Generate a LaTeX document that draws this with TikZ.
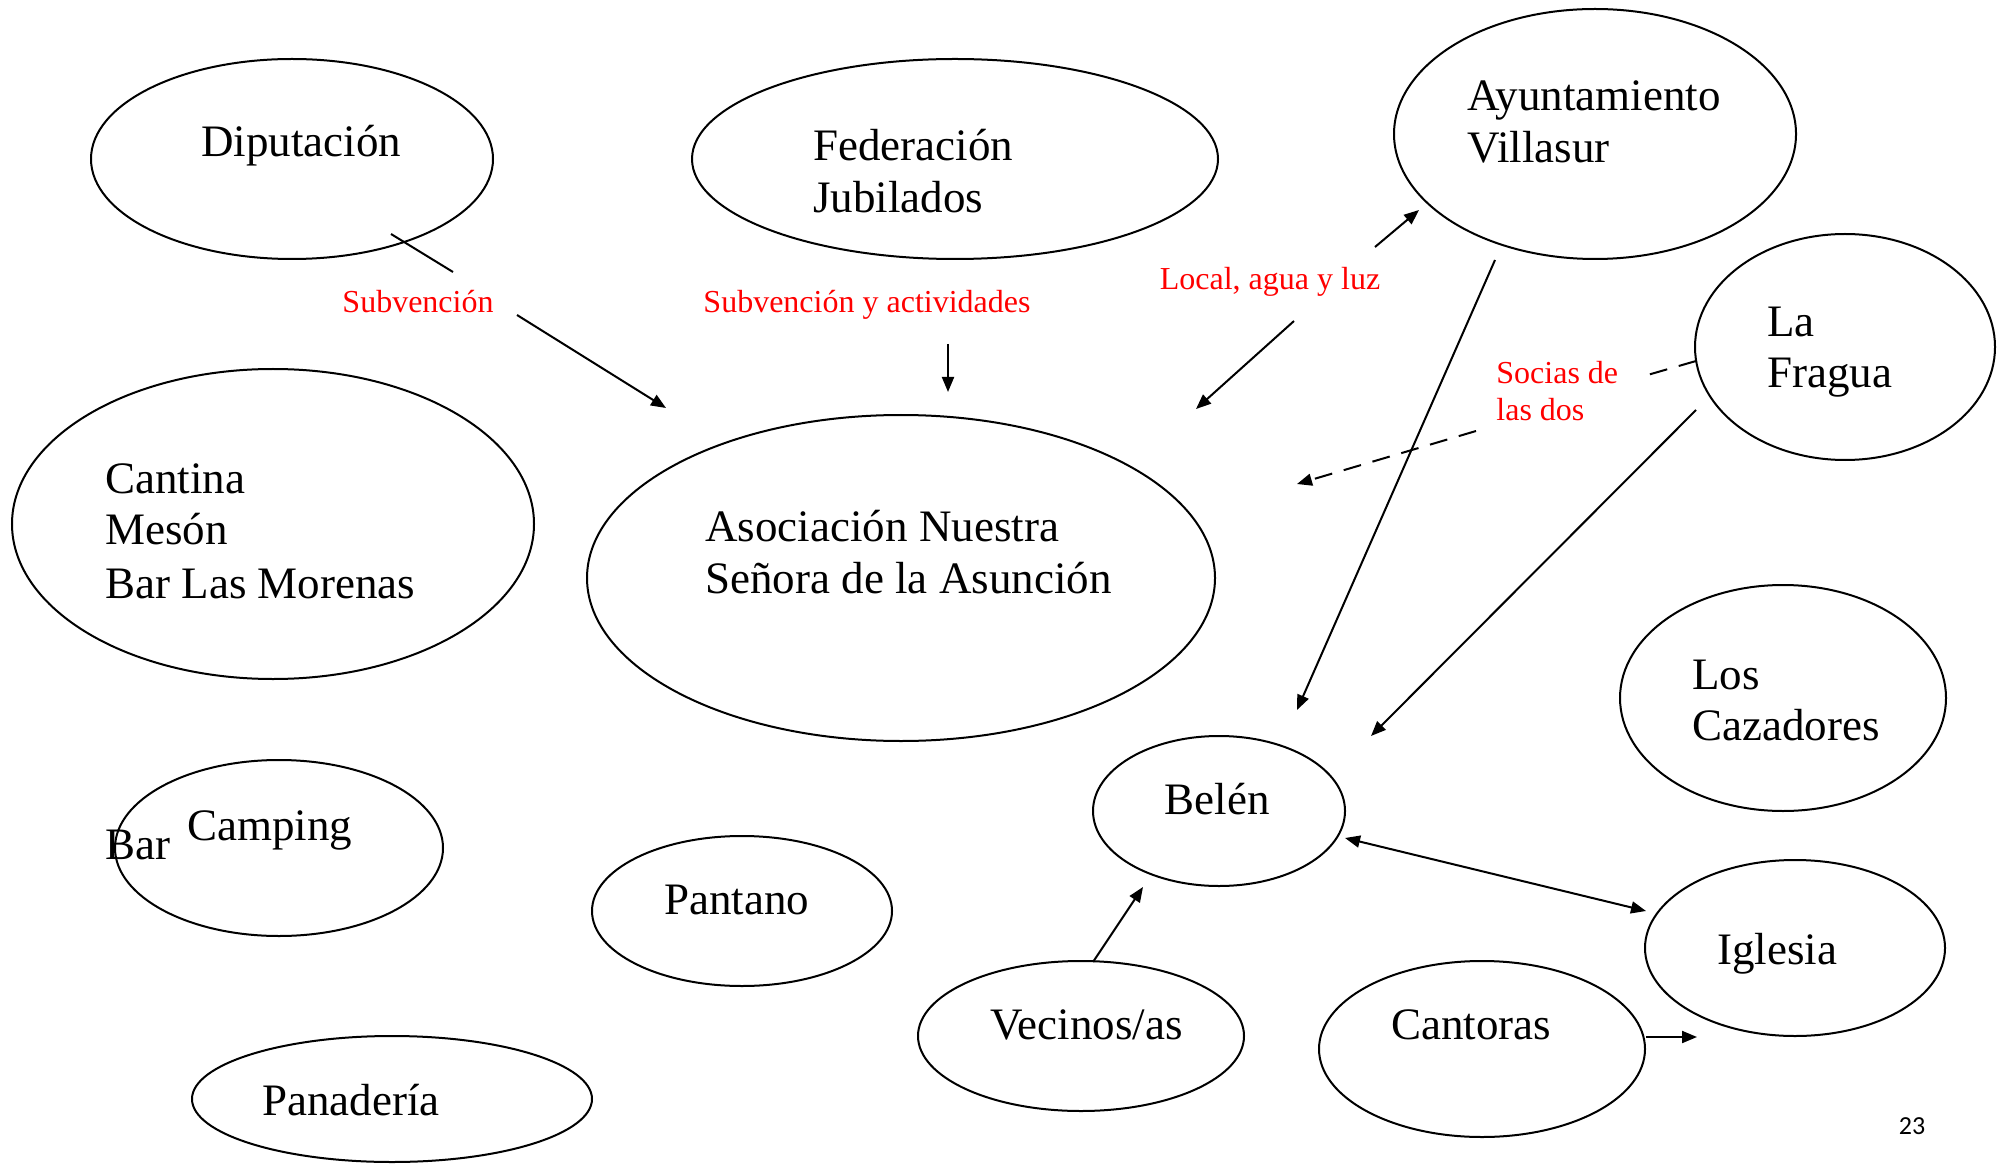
\documentclass[tikz,border=0pt]{standalone}
\usepackage{fontspec}
\setmainfont{Liberation Serif}
\newfontfamily\pagenumfont{Carlito}
\usetikzlibrary{shapes.geometric,arrows.meta}
\definecolor{lblred}{RGB}{255,0,0}
\tikzset{
  ell/.style={draw, ellipse, line width=1pt, inner sep=0pt},
  txt/.style={inner sep=0pt, anchor=base west, font=\fontsize{22.5}{26}\selectfont},
  ctxt/.style={inner sep=0pt, anchor=base, font=\fontsize{22.5}{26}\selectfont},
  rtxt/.style={inner sep=0pt, anchor=base, text=lblred, font=\fontsize{16}{19}\selectfont},
  rltxt/.style={rtxt, anchor=base west},
  conn/.style={line width=1pt, -{Triangle[length=7.5pt,width=6pt]}},
  twoway/.style={line width=1pt, {Triangle[length=7.5pt,width=6pt]}-{Triangle[length=7.5pt,width=6pt]}},
  plain/.style={line width=1pt},
  dashconn/.style={conn, dash pattern=on 9pt off 6pt},
}
\begin{document}
\begin{tikzpicture}[x=0.5pt,y=-0.5pt]
\useasboundingbox (0,0) rectangle (2005,1165);
% ellipses
\node[ell, minimum width=201pt, minimum height=100pt] (dip) at (292,159) {};
\node[ell, minimum width=263pt, minimum height=100pt] (fed) at (955,159) {};
\node[ell, minimum width=201pt, minimum height=125pt] (ayu) at (1595,134) {};
\node[ell, minimum width=150pt, minimum height=113pt] (fra) at (1845,347) {};
\node[ell, minimum width=261pt, minimum height=155pt] (can) at (273,524) {};
\node[ell, minimum width=314pt, minimum height=163pt] (aso) at (901,578) {};
\node[ell, minimum width=163pt, minimum height=113pt] (caz) at (1783,698) {};
\node[ell, minimum width=126pt, minimum height=75pt] (bel) at (1219,811) {};
\node[ell, minimum width=164pt, minimum height=88pt] (cam) at (279,848) {};
\node[ell, minimum width=150pt, minimum height=75pt] (pan) at (742,911) {};
\node[ell, minimum width=200pt, minimum height=63pt] (pnd) at (392,1099) {};
\node[ell, minimum width=163pt, minimum height=75pt] (vec) at (1081,1036) {};
\node[ell, minimum width=163pt, minimum height=88pt] (cto) at (1482,1049) {};
\node[ell, minimum width=150pt, minimum height=88pt] (igl) at (1795,948) {};
% texts
\node[txt] (tdip) at (201,157) {Diputación};
\node[txt] (tfed1) at (813,161) {Federación};
\node[txt] (tfed2) at (813,213) {Jubilados};
\node[txt] (tayu1) at (1467,111) {Ayuntamiento};
\node[txt] (tayu2) at (1467,163) {Villasur};
\node[txt] (tfra1) at (1767,337) {La};
\node[txt] (tfra2) at (1767,388) {Fragua};
\node[txt] (tcan1) at (105,493) {Cantina};
\node[txt] (tcan2) at (105,544) {Mesón};
\node[txt] (tcan3) at (105,598) {Bar Las Morenas};
\node[txt] (taso1) at (705,541) {Asociación Nuestra};
\node[txt] (taso2) at (705,593) {Señora de la Asunción};
\node[txt] (tcaz1) at (1692,689) {Los};
\node[txt] (tcaz2) at (1692,740) {Cazadores};
\node[ctxt] (tbel) at (1217,814) {Belén};
\node[txt] (tcam) at (187,840) {Camping};
\node[txt] (tbar) at (105,859) {Bar};
\node[txt] (tpan) at (664,914) {Pantano};
\node[txt] (tpnd) at (262,1115) {Panadería};
\node[txt] (tvec) at (990,1039) {Vecinos/as};
\node[txt] (tcto) at (1391,1039) {Cantoras};
\node[txt] (tigl) at (1717,964) {Iglesia};
% red labels
\node[rtxt] (lsub) at (418,313) {Subvención};
\node[rtxt] (lsubact) at (867,313) {Subvención y actividades};
\node[rtxt] (lloc) at (1270,290) {Local, agua y luz};
\node[rltxt] (lsoc1) at (1496,384) {Socias de};
\node[rltxt] (lsoc2) at (1496,421) {las dos};
% page number
\node[inner sep=0pt, anchor=base, font=\pagenumfont\fontsize{13}{15}\selectfont] (pnum) at (1912,1134) {23};
% connector end points
\coordinate (a1) at (391,234);
\coordinate (a2) at (453,272);
\coordinate (a3) at (517,315);
\coordinate (a4) at (666,408);
\coordinate (b1) at (948,344);
\coordinate (b2) at (948,392);
\coordinate (c1) at (1375,247);
\coordinate (c2) at (1419,210);
\coordinate (c3) at (1294,321);
\coordinate (c4) at (1196,409);
\coordinate (d1) at (1495,260);
\coordinate (d2) at (1297,710);
\coordinate (e1) at (1696,361);
\coordinate (e2) at (1644,376);
\coordinate (e3) at (1476,431);
\coordinate (e4) at (1297,484);
\coordinate (f1) at (1696,410);
\coordinate (f2) at (1371,736);
\coordinate (g1) at (1345,838);
\coordinate (g2) at (1646,911);
\coordinate (h1) at (1093,962);
\coordinate (h2) at (1143,887);
\coordinate (k1) at (1646,1037);
\coordinate (k2) at (1697,1037);
% connectors
\draw[plain] (a1) -- (a2);
\draw[conn] (a3) -- (a4);
\draw[conn] (b1) -- (b2);
\draw[conn] (c1) -- (c2);
\draw[conn] (c3) -- (c4);
\draw[conn] (d1) -- (d2);
\draw[plain, dash pattern=on 9pt off 6pt] (e1) -- (e2);
\draw[dashconn] (e3) -- (e4);
\draw[conn] (f1) -- (f2);
\draw[twoway] (g1) -- (g2);
\draw[conn] (h1) -- (h2);
\draw[conn] (k1) -- (k2);
\end{tikzpicture}
\end{document}
